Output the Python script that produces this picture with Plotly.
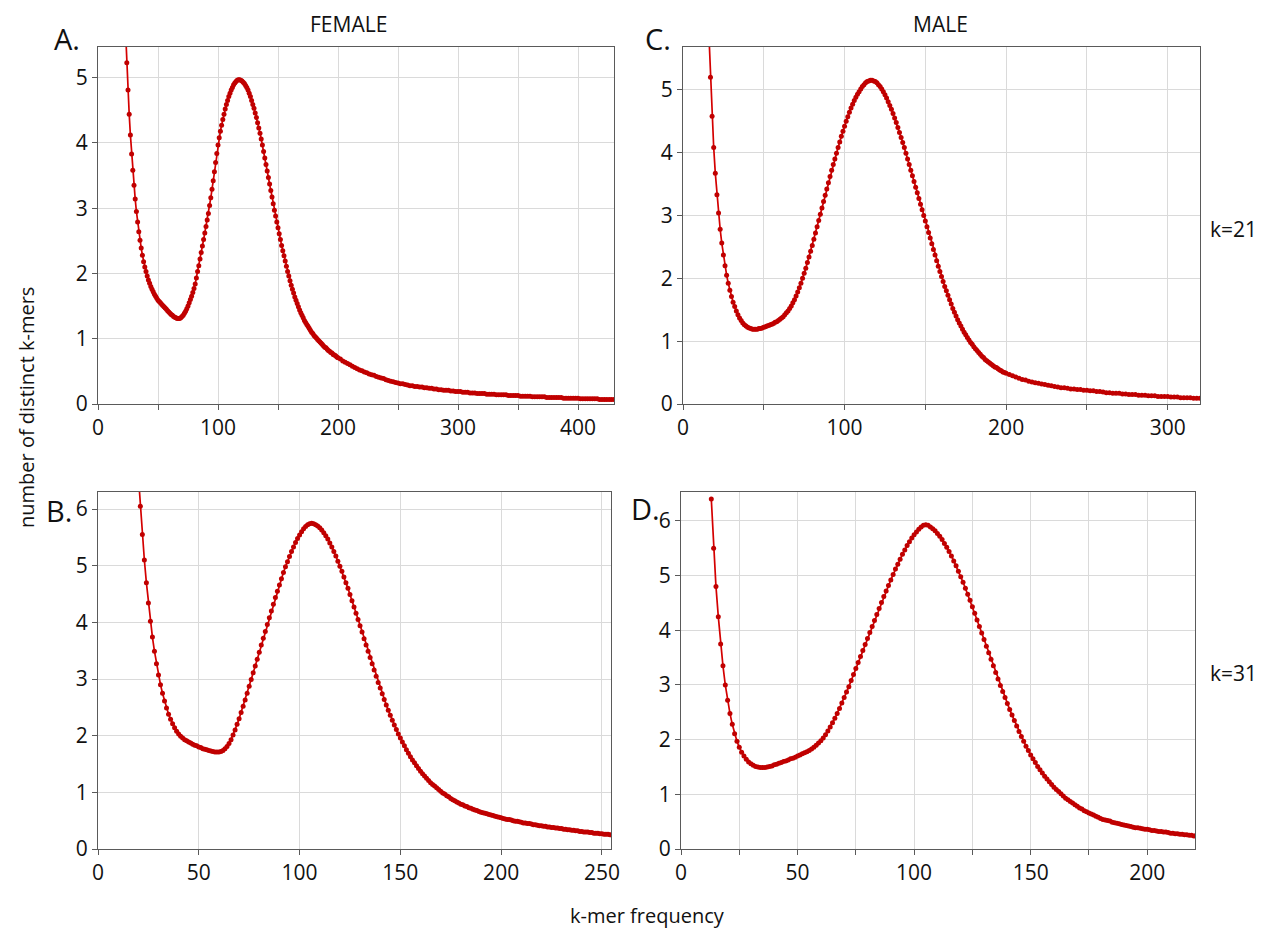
import plotly.graph_objects as go

# ---------------- data (k-mer frequency vs number of distinct k-mers) ----------------
# Panel A: FEMALE, k=21  (x from 23 step 1 to 200, then step 2)
a_start = 23
a_main = [5.70, 5.23, 4.81, 4.44, 4.12, 3.83, 3.58, 3.35, 3.14, 2.95, 2.79, 2.64, 2.51, 2.39, 2.28, 2.18,
          2.10, 2.03, 1.96, 1.90, 1.85, 1.80, 1.76, 1.72, 1.68, 1.65, 1.62, 1.59, 1.57, 1.55, 1.53, 1.51,
          1.49, 1.47, 1.45, 1.43, 1.41, 1.39, 1.37, 1.36, 1.34, 1.33, 1.32, 1.31, 1.31, 1.31, 1.32, 1.34,
          1.36, 1.39, 1.42, 1.46, 1.50, 1.55, 1.60, 1.65, 1.71, 1.77, 1.84, 1.93, 2.03, 2.12, 2.22, 2.32,
          2.42, 2.52, 2.62, 2.72, 2.82, 2.92, 3.04, 3.16, 3.29, 3.42, 3.56, 3.70, 3.84, 3.97, 4.08, 4.18,
          4.27, 4.36, 4.44, 4.52, 4.59, 4.65, 4.71, 4.76, 4.81, 4.85, 4.89, 4.92, 4.94, 4.96, 4.97, 4.97,
          4.96, 4.95, 4.93, 4.91, 4.88, 4.85, 4.81, 4.76, 4.71, 4.65, 4.59, 4.53, 4.46, 4.39, 4.31, 4.23,
          4.15, 4.06, 3.97, 3.87, 3.77, 3.67, 3.57, 3.47, 3.37, 3.27, 3.17, 3.07, 2.97, 2.88, 2.79, 2.70,
          2.61, 2.52, 2.43, 2.35, 2.27, 2.19, 2.11, 2.03, 1.96, 1.89, 1.82, 1.76, 1.70, 1.64, 1.59, 1.54,
          1.49, 1.44, 1.40, 1.36, 1.32, 1.28, 1.25, 1.22, 1.19, 1.16, 1.13, 1.10, 1.08, 1.05, 1.03, 1.01,
          0.99, 0.97, 0.95, 0.93, 0.91, 0.89, 0.87, 0.86, 0.84, 0.82, 0.81, 0.79, 0.78, 0.76, 0.75, 0.74,
          0.72, 0.71]
a_tail = [0.69, 0.66, 0.64, 0.62, 0.60, 0.58, 0.56, 0.54, 0.52, 0.51, 0.49, 0.48, 0.46, 0.45, 0.44,
          0.42, 0.41, 0.40, 0.39, 0.37, 0.36, 0.35, 0.34, 0.33, 0.32, 0.31, 0.31, 0.30, 0.29, 0.28,
          0.28, 0.27, 0.27, 0.26, 0.26, 0.25, 0.25, 0.24, 0.24, 0.23, 0.23, 0.22, 0.22, 0.21, 0.21,
          0.21, 0.20, 0.20, 0.19, 0.19,
          0.19, 0.18, 0.18, 0.18, 0.17, 0.17, 0.17, 0.16, 0.16, 0.16, 0.16, 0.15, 0.15, 0.15, 0.15,
          0.14, 0.14, 0.14, 0.14, 0.14, 0.13, 0.13, 0.13, 0.13, 0.13, 0.12, 0.12, 0.12, 0.12, 0.12,
          0.11, 0.11, 0.11, 0.11, 0.11, 0.11, 0.10, 0.10, 0.10, 0.10, 0.10, 0.10, 0.10, 0.09, 0.09,
          0.09, 0.09, 0.09, 0.09, 0.09, 0.08, 0.08, 0.08, 0.08, 0.08, 0.08, 0.08, 0.08, 0.07, 0.07,
          0.07, 0.07, 0.07, 0.07, 0.07]

# Panel C: MALE, k=21
c_start = 16
c_main = [5.90, 5.20, 4.58, 4.08, 3.67, 3.33, 3.04, 2.78, 2.56, 2.37, 2.20, 2.05, 1.92, 1.81, 1.71, 1.62,
          1.55, 1.48, 1.42, 1.37, 1.33, 1.29, 1.26, 1.24, 1.22, 1.21, 1.20, 1.19, 1.19, 1.19, 1.19, 1.20,
          1.20, 1.21, 1.22, 1.23, 1.24, 1.25, 1.26, 1.27, 1.28, 1.30, 1.31, 1.33, 1.35, 1.37, 1.39, 1.42,
          1.45, 1.48, 1.52, 1.56, 1.61, 1.66, 1.72, 1.78, 1.85, 1.92, 2.00, 2.08, 2.16, 2.25, 2.34, 2.43,
          2.52, 2.62, 2.72, 2.82, 2.92, 3.02, 3.12, 3.22, 3.32, 3.42, 3.52, 3.62, 3.72, 3.81, 3.90, 3.99,
          4.08, 4.17, 4.26, 4.34, 4.42, 4.50, 4.57, 4.64, 4.71, 4.77, 4.83, 4.88, 4.93, 4.97, 5.01, 5.05,
          5.08, 5.11, 5.13, 5.14, 5.15, 5.15, 5.14, 5.13, 5.11, 5.08, 5.05, 5.01, 4.97, 4.92, 4.87, 4.81,
          4.75, 4.69, 4.62, 4.55, 4.48, 4.40, 4.32, 4.24, 4.16, 4.08, 3.99, 3.90, 3.81, 3.72, 3.63, 3.54,
          3.45, 3.36, 3.27, 3.18, 3.09, 3.00, 2.91, 2.82, 2.73, 2.64, 2.55, 2.46, 2.37, 2.28, 2.19, 2.11,
          2.03, 1.95, 1.87, 1.80, 1.73, 1.66, 1.59, 1.52, 1.46, 1.40, 1.34, 1.29, 1.24, 1.19, 1.14, 1.10,
          1.06, 1.02, 0.98, 0.95, 0.91, 0.88, 0.85, 0.82, 0.79, 0.76, 0.74, 0.71, 0.69, 0.67, 0.65, 0.63,
          0.61, 0.59, 0.58, 0.56, 0.54, 0.53, 0.51, 0.50, 0.49]
c_tail = [0.47, 0.45, 0.43, 0.41, 0.39, 0.38, 0.36, 0.35, 0.34, 0.33, 0.32, 0.31, 0.30, 0.29, 0.28,
          0.27, 0.26, 0.26, 0.25, 0.24, 0.24, 0.23, 0.23, 0.22, 0.22, 0.21, 0.21, 0.20, 0.20, 0.19,
          0.18, 0.18, 0.17, 0.17, 0.17, 0.16, 0.16, 0.15, 0.15, 0.15, 0.14, 0.14, 0.14, 0.13, 0.13,
          0.13, 0.12, 0.12, 0.12, 0.12, 0.11, 0.11, 0.11, 0.10, 0.10, 0.10, 0.10, 0.09, 0.09, 0.09]

# Panel B: FEMALE, k=31 (x from 20, step 1)
b_start = 20
b_main = [6.60, 6.05, 5.55, 5.10, 4.70, 4.34, 4.02, 3.74, 3.49, 3.27, 3.07, 2.90, 2.75, 2.61, 2.49, 2.38,
          2.29, 2.21, 2.14, 2.08, 2.03, 1.99, 1.96, 1.93, 1.91, 1.89, 1.87, 1.85, 1.83, 1.82, 1.80, 1.79,
          1.77, 1.76, 1.75, 1.74, 1.73, 1.72, 1.71, 1.71, 1.71, 1.72, 1.74, 1.77, 1.81, 1.86, 1.93, 2.01,
          2.10, 2.20, 2.30, 2.41, 2.52, 2.63, 2.75, 2.87, 2.99, 3.11, 3.23, 3.35, 3.47, 3.60, 3.72, 3.84,
          3.96, 4.08, 4.20, 4.32, 4.44, 4.55, 4.66, 4.77, 4.88, 4.98, 5.07, 5.16, 5.25, 5.33, 5.41, 5.48,
          5.54, 5.60, 5.65, 5.69, 5.72, 5.74, 5.75, 5.74, 5.72, 5.70, 5.67, 5.63, 5.58, 5.53, 5.47, 5.40,
          5.33, 5.25, 5.17, 5.08, 4.99, 4.90, 4.80, 4.70, 4.60, 4.49, 4.38, 4.27, 4.16, 4.05, 3.94, 3.83,
          3.71, 3.60, 3.49, 3.38, 3.27, 3.16, 3.05, 2.94, 2.84, 2.74, 2.64, 2.54, 2.45, 2.36, 2.27, 2.19,
          2.11, 2.03, 1.96, 1.89, 1.82, 1.75, 1.69, 1.63, 1.57, 1.52, 1.47, 1.42, 1.37, 1.33, 1.29, 1.25,
          1.21, 1.17, 1.14, 1.11, 1.08, 1.05, 1.02, 0.99, 0.97, 0.94, 0.92, 0.89, 0.87, 0.85, 0.83, 0.81,
          0.79, 0.78, 0.76, 0.75, 0.73, 0.72, 0.70, 0.69, 0.68, 0.66, 0.65, 0.64, 0.63, 0.62, 0.61, 0.60,
          0.59, 0.58, 0.57, 0.56, 0.55, 0.54, 0.53, 0.52, 0.52, 0.51, 0.50, 0.49, 0.49, 0.48, 0.47, 0.46,
          0.46, 0.45, 0.45, 0.44, 0.43, 0.43, 0.42, 0.41, 0.41, 0.40, 0.40, 0.39, 0.39, 0.38, 0.38, 0.37,
          0.37, 0.36, 0.36, 0.35, 0.35, 0.34, 0.34, 0.33, 0.33, 0.32, 0.32, 0.31, 0.31, 0.30, 0.30, 0.30,
          0.29, 0.29, 0.28, 0.28, 0.28, 0.27, 0.27, 0.26, 0.26, 0.26, 0.25, 0.25]
b_tail = []

# Panel D: MALE, k=31 (x from 13, step 1)
d_start = 13
d_main = [6.40, 5.50, 4.80, 4.25, 3.75, 3.35, 3.00, 2.72, 2.48, 2.28, 2.11, 1.97, 1.86, 1.77, 1.70, 1.64,
          1.59, 1.56, 1.53, 1.51, 1.50, 1.49, 1.49, 1.49, 1.50, 1.51, 1.52, 1.54, 1.55, 1.57, 1.58, 1.60,
          1.61, 1.63, 1.65, 1.66, 1.68, 1.70, 1.72, 1.74, 1.76, 1.78, 1.80, 1.83, 1.86, 1.90, 1.94, 1.98,
          2.03, 2.09, 2.16, 2.23, 2.31, 2.39, 2.48, 2.57, 2.67, 2.77, 2.87, 2.97, 3.08, 3.19, 3.30, 3.41,
          3.52, 3.63, 3.74, 3.85, 3.96, 4.07, 4.18, 4.29, 4.40, 4.51, 4.62, 4.72, 4.82, 4.92, 5.02, 5.12,
          5.21, 5.30, 5.39, 5.47, 5.55, 5.62, 5.69, 5.75, 5.80, 5.85, 5.89, 5.92, 5.93, 5.92, 5.89, 5.86,
          5.82, 5.77, 5.72, 5.66, 5.59, 5.52, 5.44, 5.36, 5.27, 5.18, 5.08, 4.98, 4.88, 4.77, 4.66, 4.55,
          4.43, 4.31, 4.19, 4.07, 3.95, 3.83, 3.71, 3.59, 3.47, 3.35, 3.23, 3.11, 2.99, 2.88, 2.77, 2.66,
          2.55, 2.45, 2.35, 2.25, 2.15, 2.06, 1.97, 1.88, 1.80, 1.72, 1.65, 1.58, 1.51, 1.45, 1.39, 1.33,
          1.28, 1.23, 1.18, 1.13, 1.09, 1.05, 1.01, 0.97, 0.93, 0.90, 0.87, 0.84, 0.81, 0.78, 0.75, 0.73,
          0.70, 0.68, 0.66, 0.64, 0.62, 0.60, 0.58, 0.56, 0.54, 0.53, 0.52, 0.51, 0.49, 0.48, 0.47, 0.46,
          0.45, 0.44, 0.43, 0.42, 0.41, 0.40, 0.39, 0.39, 0.38, 0.37, 0.36, 0.36, 0.35, 0.34, 0.34, 0.33,
          0.32, 0.32, 0.31, 0.31, 0.30, 0.29, 0.29, 0.28, 0.28, 0.27, 0.27, 0.26, 0.26, 0.25, 0.25, 0.24,
          0.24]
d_tail = []

# axis ranges
x_ranges = {"A": 430, "C": 320, "B": 254.5, "D": 220.5}
y_ranges = {"A": 5.47, "C": 5.68, "B": 6.30, "D": 6.53}


def series(start, main, tail):
    x = list(range(start, start + len(main)))
    if tail:
        last = x[-1]
        x += list(range(last + 2, last + 2 + 2 * len(tail), 2))
    return x, main + tail


# the page has an 8px body margin; work in window pixels and convert
OFF = 8
W, H = 1263, 928


def px(x):
    return (x - OFF) / W


def py(y):
    return 1 - (y - OFF) / H


# pixel boxes in the window [left, right, top, bottom]
boxes = {"A": (98, 614, 47, 404), "C": (683, 1200, 47, 404),
         "B": (98, 611, 492, 849), "D": (681, 1195, 492, 849)}
data = {"A": (a_start, a_main, a_tail), "C": (c_start, c_main, c_tail),
        "B": (b_start, b_main, b_tail), "D": (d_start, d_main, d_tail)}
order = ["A", "C", "B", "D"]

FONT = "Open Sans, Noto Sans, sans-serif"
fig = go.Figure()
layout = dict(width=W, height=H, margin=dict(l=0, r=0, t=0, b=0),
              paper_bgcolor="white", plot_bgcolor="white", showlegend=False,
              font=dict(family=FONT, color="#111", size=21))

for i, key in enumerate(order, start=1):
    xs, ys = series(*data[key])
    xa = "x" if i == 1 else f"x{i}"
    ya = "y" if i == 1 else f"y{i}"
    fig.add_trace(go.Scatter(x=xs, y=ys, xaxis=xa, yaxis=ya, mode="lines+markers",
                             line=dict(color="#d40000", width=1.7),
                             marker=dict(color="#c00000", size=5),
                             cliponaxis=True, hoverinfo="skip"))
    l, r, t, b = boxes[key]
    xmax = x_ranges[key]
    if key in ("A", "C"):
        step, lab = 50, 100
    elif key == "B":
        step, lab = 50, 50
    else:
        step, lab = 25, 50
    tv = list(range(0, int(xmax) + 1, step))
    tt = [str(v) if v % lab == 0 else "" for v in tv]
    ymax = y_ranges[key]
    yv = list(range(0, int(ymax) + 1))
    axis_common = dict(showline=True, linecolor="#5a5a5a", linewidth=1.3, mirror=True,
                       showgrid=True, gridcolor="#dadada", gridwidth=1, zeroline=False,
                       ticks="outside", ticklen=5, tickcolor="#5a5a5a", tickwidth=1,
                       automargin=False, tickfont=dict(size=21, family=FONT, color="#111"))
    layout["xaxis" if i == 1 else f"xaxis{i}"] = dict(
        domain=[px(l), px(r)], range=[0, xmax], tickvals=tv, ticktext=tt,
        anchor=ya, **axis_common)
    layout["yaxis" if i == 1 else f"yaxis{i}"] = dict(
        domain=[py(b), py(t)], range=[0, ymax], tickvals=yv,
        ticktext=[str(v) for v in yv], anchor=xa, **axis_common)

ann = []


def txt(s, x, y, size, angle=0):
    ann.append(dict(text=s, x=px(x), y=py(y), xref="paper", yref="paper",
                    showarrow=False, xanchor="center", yanchor="middle",
                    textangle=angle, font=dict(size=size, family=FONT, color="#111")))


txt("A.", 67, 38, 29)
txt("C.", 658, 38, 29)
txt("B.", 59, 510, 29)
txt("D.", 645, 508, 29)
txt("FEMALE", 349, 24, 21)
txt("MALE", 940, 24, 21)
txt("k=21", 1233, 229, 21)
txt("k=31", 1233, 673, 21)
txt("number of distinct k-mers", 26, 408, 20, -90)
txt("k-mer frequency", 647, 915, 20)
layout["annotations"] = ann

fig.update_layout(**layout)
fig.write_html("out.html")
